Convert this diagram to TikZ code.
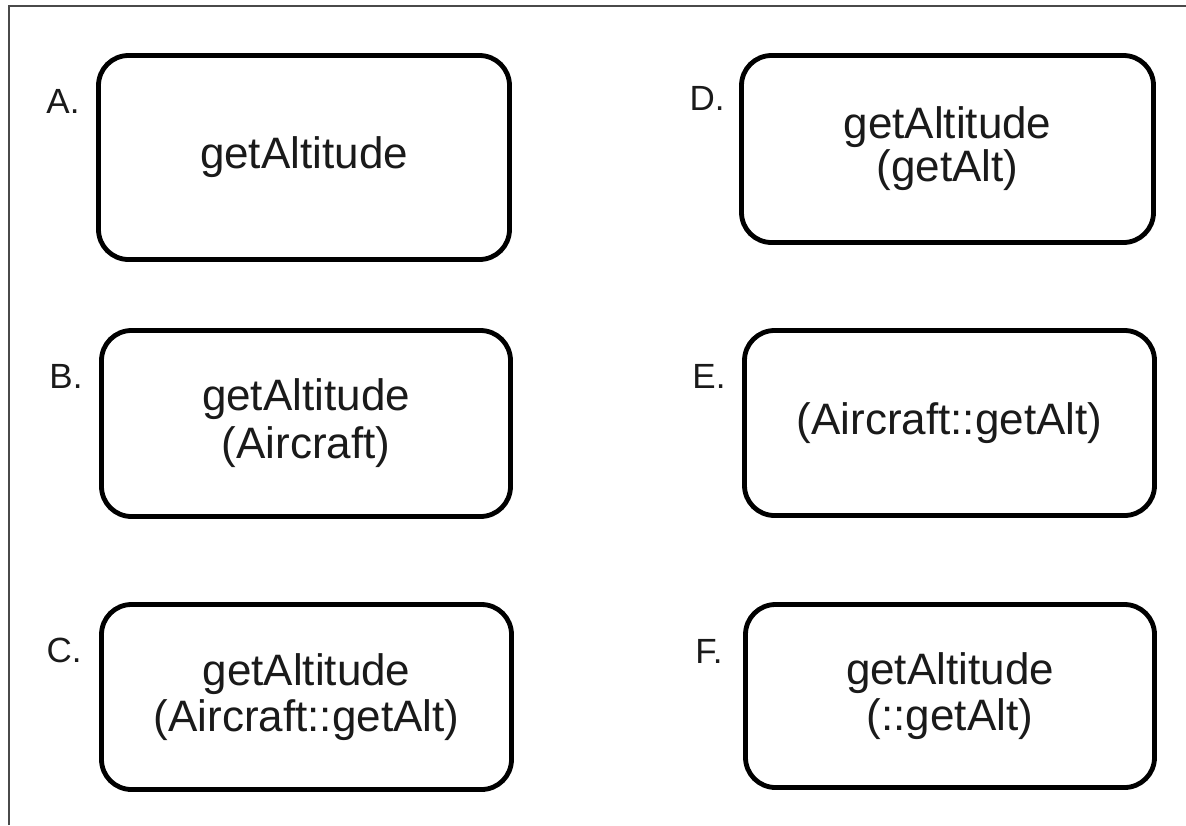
\documentclass[tikz,border=0pt]{standalone}
\usepackage{fontspec}
\setmainfont{Liberation Sans}
\definecolor{txt}{HTML}{1A1A1A}
\definecolor{frame}{HTML}{4A4A4A}
\begin{document}
\begin{tikzpicture}[x=1pt,y=-1pt,
  box/.style={draw=black, line width=4.8pt, rounded corners=30pt, align=center,
    text=txt, font=\fontsize{44}{48}\selectfont, inner sep=0pt},
  lab/.style={text=txt, font=\fontsize{35}{40}\selectfont, inner sep=0pt}]
\useasboundingbox (0,0) rectangle (1186,825);
\fill[white] (0,0) rectangle (1186,825);
\coordinate (fa) at (9,825);
\coordinate (fb) at (9,6);
\coordinate (fc) at (1186,6);
\draw[frame, line width=2.8pt] (fa) -- (fb) -- (fc);

\node[box, minimum width=411, minimum height=204] (A) at (304,157.5) {\raisebox{4pt}{getAltitude}};
\node[box, minimum width=412, minimum height=187, font=\fontsize{44}{43}\selectfont] (D) at (947.5,149) {getAltitude\\(getAlt)};
\node[box, minimum width=409, minimum height=186] (B) at (306,423.5) {getAltitude\\(Aircraft)};
\node[box, minimum width=410, minimum height=185] (E) at (949.5,423) {(Aircraft::getAlt)};
\node[box, minimum width=410, minimum height=185, font=\fontsize{44}{46}\selectfont] (C) at (306.5,697) {getAltitude\\(Aircraft::getAlt)};
\node[box, minimum width=409, minimum height=183, font=\fontsize{44}{46}\selectfont] (F) at (950,696) {getAltitude\\(::getAlt)};

\node[lab] (lA) at (63,101) {A.};
\node[lab] (lD) at (707,98) {D.};
\node[lab] (lB) at (66,376) {B.};
\node[lab] (lE) at (709,376) {E.};
\node[lab] (lC) at (64,650) {C.};
\node[lab] (lF) at (709,651) {F.};
\end{tikzpicture}
\end{document}
